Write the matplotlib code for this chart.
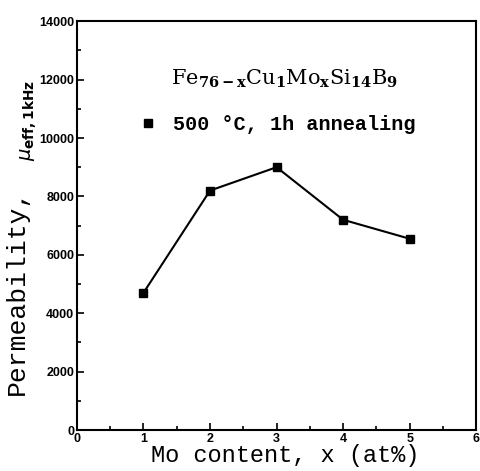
import matplotlib
matplotlib.use('Agg')
import matplotlib.pyplot as plt
from matplotlib.ticker import MultipleLocator

# Mo content (at%) and effective permeability at 1 kHz
mo_content = [1, 2, 3, 4, 5]
permeability = [4700, 8200, 9000, 7200, 6550]

x_ticks = [0, 1, 2, 3, 4, 5, 6]
y_ticks = [0, 2000, 4000, 6000, 8000, 10000, 12000, 14000]

MONO = 'Liberation Mono'


def main():
    fig = plt.figure(figsize=(4.81, 4.71), dpi=100)
    ax = fig.add_axes([0.160, 0.087, 0.830, 0.868])

    ax.plot(mo_content, permeability, color='black', linewidth=1.5,
            marker='s', markersize=5.5, label='500 °C, 1h annealing')

    ax.set_xlim(0, 6)
    ax.set_ylim(0, 14000)
    ax.set_xticks(x_ticks)
    ax.set_yticks(y_ticks)
    ax.xaxis.set_minor_locator(MultipleLocator(0.5))
    ax.yaxis.set_minor_locator(MultipleLocator(1000))
    ax.tick_params(which='both', direction='in', top=False, right=False,
                   width=1.2, labelsize=9, pad=2)
    ax.tick_params(which='major', length=5)
    ax.tick_params(which='minor', length=3)
    for lbl in ax.get_xticklabels() + ax.get_yticklabels():
        lbl.set_fontweight('bold')
        lbl.set_family('Liberation Sans')
    for sp in ax.spines.values():
        sp.set_linewidth(1.5)

    ax.set_xlabel('Mo content, x (at%)', family=MONO, fontsize=17,
                  labelpad=-1)
    ax.xaxis.set_label_coords(0.521, -0.035, transform=ax.transAxes)
    ax.xaxis.label.set_va('top')

    # y label in two pieces: plain text and the mu symbol with subscript
    fig.text(0.036, 0.381, 'Permeability,', family=MONO, fontsize=19,
             rotation=90, ha='center', va='center')
    fig.text(0.060, 0.745, r'$\mu_{\mathbf{eff,1kHz}}$', fontsize=14,
             rotation=90, ha='center', va='center')

    ax.text(0.52, 0.86,
            r'$\mathrm{Fe_{\mathbf{76-x}}Cu_{\mathbf{1}}Mo_{\mathbf{x}}'
            r'Si_{\mathbf{14}}B_{\mathbf{9}}}$',
            transform=ax.transAxes, ha='center', va='center', fontsize=15,
            math_fontfamily='dejavuserif')

    leg = ax.legend(loc='upper left', bbox_to_anchor=(0.118, 0.815),
                    frameon=False, handlelength=0.6, handletextpad=0.95,
                    prop={'family': MONO, 'weight': 'bold', 'size': 14.5})
    leg.get_lines()[0].set_linestyle('none')

    fig.savefig('out.png', dpi=100)


if __name__ == '__main__':
    main()
